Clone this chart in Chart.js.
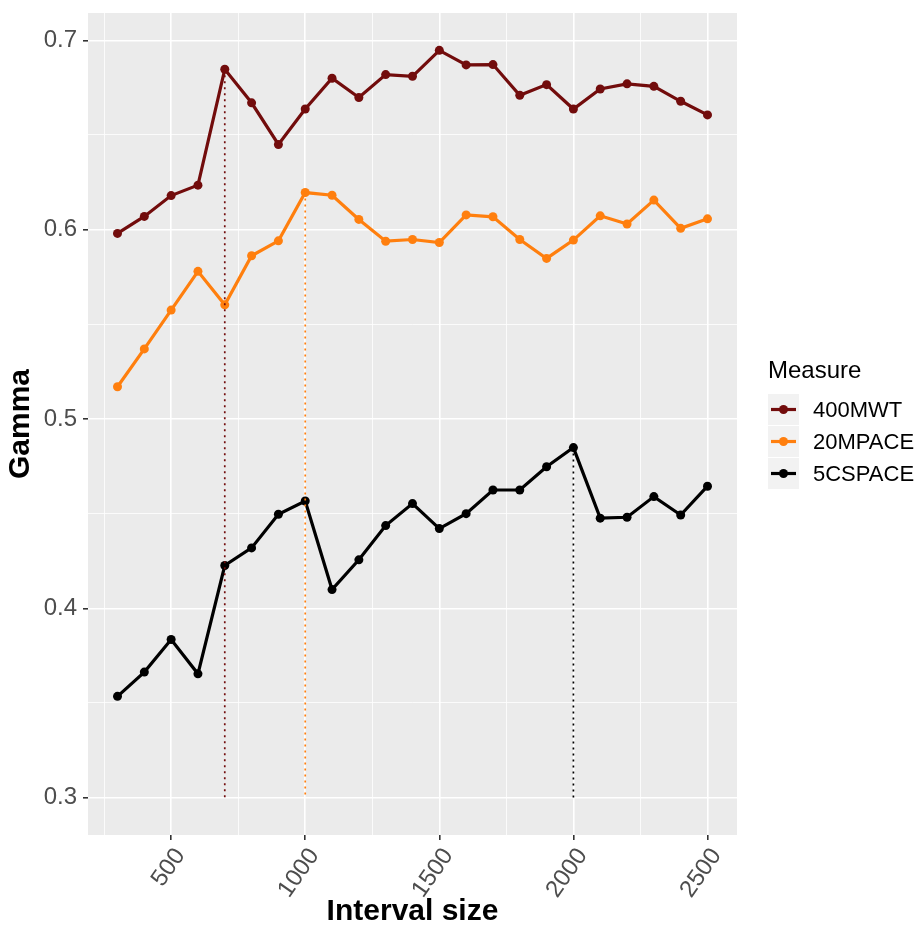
<!DOCTYPE html>
<html lang="en">
<head>
  <meta charset="utf-8">
  <title>Gamma by interval size</title>
  <script src="https://cdn.jsdelivr.net/npm/chart.js"></script>
  <style>
    body { margin: 0; background: #ffffff; }
    #wrap { position: relative; width: 918px; height: 927px; }
  </style>
</head>
<body>
  <div id="wrap"><canvas id="gamma-chart"></canvas></div>

  <script>
    // ---- data ----
    const intervals = [300, 400, 500, 600, 700, 800, 900, 1000, 1100, 1200, 1300, 1400,
                       1500, 1600, 1700, 1800, 1900, 2000, 2100, 2200, 2300, 2400, 2500];
    const gamma400MWT = [0.598, 0.607, 0.618, 0.6235, 0.6847, 0.667, 0.645, 0.6637, 0.680, 0.6698, 0.6819, 0.681,
                         0.6947, 0.687, 0.6872, 0.671, 0.6766, 0.6637, 0.6743, 0.677, 0.6757, 0.6678, 0.6606];
    const gamma20MPACE = [0.517, 0.537, 0.5575, 0.578, 0.5603, 0.5862, 0.5941, 0.6196, 0.6182, 0.6054, 0.5939, 0.5948,
                          0.5932, 0.6078, 0.6068, 0.5948, 0.5848, 0.5945, 0.6073, 0.6030, 0.6156, 0.6007, 0.6057];
    const gamma5CSPACE = [0.3535, 0.3663, 0.3835, 0.3654, 0.4226, 0.4319, 0.4497, 0.4567, 0.4099, 0.4256, 0.4437, 0.4553,
                          0.4421, 0.4500, 0.4625, 0.4625, 0.4748, 0.4849, 0.4476, 0.4481, 0.4590, 0.4493, 0.4645];
    const measureNames = ['400MWT', '20MPACE', '5CSPACE'];
    const chosenIntervals = [700, 1000, 2000];   // dotted drop lines, one per measure
    const dropLineBottom = 0.3;
    const xTickLabels = [500, 1000, 1500, 2000, 2500];
    const yTickLabels = [0.3, 0.4, 0.5, 0.6, 0.7];

    // ---- styling ----
    const measureColors = ['#720c0c', '#ff7f0e', '#000000'];
    const tickFont = { family: 'Liberation Sans, Arial, sans-serif', size: 24 };
    const titleFont = { family: 'Liberation Sans, Arial, sans-serif', size: 30, weight: 'bold', lineHeight: 1 };

    const allSeries = [gamma400MWT, gamma20MPACE, gamma5CSPACE];

    // ggplot style 5% expansion of the ranges
    const xLo = Math.min(...intervals), xHi = Math.max(...intervals);
    const xPad = (xHi - xLo) * 0.05;
    const yLo = Math.min(dropLineBottom, ...allSeries.flat());
    const yHi = Math.max(...allSeries.flat());
    const yPad = (yHi - yLo) * 0.05;

    // minor grid sits halfway between majors
    function withMinors(majors) {
      const step = majors[1] - majors[0];
      const out = [];
      out.push(+(majors[0] - step / 2).toFixed(6));
      majors.forEach(v => { out.push(v); out.push(+(v + step / 2).toFixed(6)); });
      return out;
    }
    const xGridValues = withMinors(xTickLabels);
    const yGridValues = withMinors(yTickLabels);
    const isMajor = (list, v) => list.some(m => Math.abs(m - v) < 1e-6);

    const datasets = [];
    // drop lines first so they are drawn on top
    measureNames.forEach((name, i) => {
      const x = chosenIntervals[i];
      const top = allSeries[i][intervals.indexOf(x)];
      datasets.push({
        label: name + ' drop',
        data: [{ x: x, y: top }, { x: x, y: dropLineBottom }],
        borderColor: measureColors[i],
        borderWidth: 1.7,
        borderDash: [2, 4],
        pointRadius: 0,
        isDrop: true
      });
    });
    measureNames.forEach((name, i) => {
      datasets.push({
        label: name,
        data: intervals.map((x, k) => ({ x: x, y: allSeries[i][k] })),
        borderColor: measureColors[i],
        backgroundColor: measureColors[i],
        borderWidth: 3.2,
        pointRadius: 4.5,
        pointBorderWidth: 0,
        tension: 0
      });
    });

    // grey panel like ggplot
    const panelBg = {
      id: 'panelBg',
      beforeDraw(chart) {
        const a = chart.chartArea, ctx = chart.ctx;
        ctx.save();
        ctx.fillStyle = '#ebebeb';
        ctx.fillRect(a.left, a.top, a.right - a.left, a.bottom - a.top);
        ctx.restore();
      }
    };

    // legend drawn to the right of the panel
    const sideLegend = {
      id: 'sideLegend',
      afterDraw(chart) {
        const ctx = chart.ctx;
        const x0 = 768, key = 31;
        ctx.save();
        ctx.fillStyle = '#000000';
        ctx.textBaseline = 'middle';
        ctx.textAlign = 'left';
        ctx.font = '24px Liberation Sans, Arial, sans-serif';
        ctx.fillText('Measure', x0, 371);
        const series = chart.data.datasets.filter(d => !d.isDrop);
        series.forEach((d, i) => {
          const y = 394 + i * (key + 1);
          ctx.fillStyle = '#f2f2f2';
          ctx.fillRect(x0, y, key, key);
          const cy = y + key / 2;
          ctx.strokeStyle = d.borderColor;
          ctx.lineWidth = 3.2;
          ctx.beginPath();
          ctx.moveTo(x0 + 3, cy);
          ctx.lineTo(x0 + key - 3, cy);
          ctx.stroke();
          ctx.fillStyle = d.borderColor;
          ctx.beginPath();
          ctx.arc(x0 + key / 2, cy, 4.5, 0, Math.PI * 2);
          ctx.fill();
          ctx.fillStyle = '#000000';
          ctx.font = '22px Liberation Sans, Arial, sans-serif';
          ctx.fillText(d.label, 813, cy + 1);
        });
        ctx.restore();
      }
    };

    new Chart(document.getElementById('gamma-chart'), {
      type: 'line',
      data: { datasets: datasets },
      plugins: [panelBg, sideLegend],
      options: {
        responsive: true,
        maintainAspectRatio: false,
        animation: false,
        layout: { padding: { top: 13, right: 181, left: 0, bottom: 0 } },
        plugins: { legend: { display: false }, tooltip: { enabled: false } },
        scales: {
          x: {
            type: 'linear',
            min: xLo - xPad,
            max: xHi + xPad,
            afterBuildTicks(scale) { scale.ticks = xGridValues.map(v => ({ value: v })); },
            afterFit(scale) {
              scale.height = 92;
              scale.paddingLeft = 0; scale.paddingRight = 0;
            },
            border: { display: false },
            grid: {
              color: '#ffffff',
              lineWidth: c => isMajor(xTickLabels, c.tick.value) ? 1.6 : 0.8,
              drawTicks: true,
              tickLength: 5,
              tickWidth: 1.6,
              tickColor: c => isMajor(xTickLabels, c.tick.value) ? '#333333' : 'rgba(0,0,0,0)'
            },
            ticks: {
              autoSkip: false,
              minRotation: 55,
              maxRotation: 55,
              padding: 3,
              labelOffset: 9,
              color: '#4d4d4d',
              font: tickFont,
              callback: v => isMajor(xTickLabels, v) ? String(v) : ''
            },
            title: {
              display: true,
              text: 'Interval size',
              color: '#000000',
              font: titleFont,
              padding: { top: 0, bottom: 0 }
            }
          },
          y: {
            type: 'linear',
            min: yLo - yPad,
            max: yHi + yPad,
            afterBuildTicks(scale) { scale.ticks = yGridValues.map(v => ({ value: v })); },
            afterFit(scale) {
              scale.width = 88;
              scale.paddingTop = 0; scale.paddingBottom = 0;
            },
            border: { display: false },
            grid: {
              color: '#ffffff',
              lineWidth: c => isMajor(yTickLabels, c.tick.value) ? 1.6 : 0.8,
              drawTicks: true,
              tickLength: 5,
              tickWidth: 1.6,
              tickColor: c => isMajor(yTickLabels, c.tick.value) ? '#333333' : 'rgba(0,0,0,0)'
            },
            ticks: {
              padding: 6,
              color: '#4d4d4d',
              font: tickFont,
              callback: v => isMajor(yTickLabels, v) ? v.toFixed(1) : ''
            },
            title: {
              display: true,
              text: 'Gamma',
              color: '#000000',
              font: titleFont,
              padding: { top: 6, bottom: 0 }
            }
          }
        }
      }
    });
  </script>
</body>
</html>
